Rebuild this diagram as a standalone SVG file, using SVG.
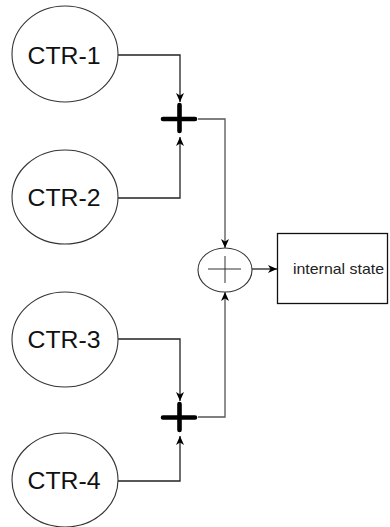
<svg xmlns="http://www.w3.org/2000/svg" width="390" height="527" viewBox="0 0 390 527">
  <style>
    .ctr { fill: #ffffff; stroke: #333333; stroke-width: 1.1; }
    .label { font-family: "Liberation Sans", Arial, sans-serif; font-size: 23px; fill: #111111; text-anchor: middle; }
    .small { font-family: "Liberation Sans", Arial, sans-serif; font-size: 15px; fill: #222222; text-anchor: middle; }
    .sum { stroke: #000000; stroke-width: 4.6; stroke-linecap: round; fill: none; }
    .wire { fill: none; stroke: #222222; stroke-width: 1.3; marker-end: url(#arrow); }
    .wire2 { fill: none; stroke: #555555; stroke-width: 1.3; marker-end: url(#arrow); }
  </style>
  <defs>
    <marker id="arrow" markerUnits="userSpaceOnUse" markerWidth="10" markerHeight="10" viewBox="0 0 10 8" refX="9" refY="4" orient="auto">
      <path d="M0,0 L9,4 L0,8 L2.5,4 Z" fill="#000000"/>
    </marker>
  </defs>
  <rect width="390" height="527" fill="#ffffff"/>

  <!-- connectors -->
  <g id="connectors">
    <path class="wire" d="M118,55 H180 V102"/>
    <path class="wire" d="M118,198 H180 V137"/>
    <path class="wire" d="M118,339 H180 V401"/>
    <path class="wire" d="M118,481 H180 V436"/>
    <path class="wire2" d="M198,119 H225 V248"/>
    <path class="wire2" d="M198,417 H225 V292"/>
    <path class="wire" d="M252,269 H277"/>
  </g>

  <!-- counters -->
  <g id="ctr1">
    <ellipse class="ctr" cx="65" cy="54" rx="53" ry="48"/>
    <text class="label" x="64" y="64" textLength="73" lengthAdjust="spacingAndGlyphs">CTR-1</text>
  </g>
  <g id="ctr2">
    <ellipse class="ctr" cx="65" cy="197" rx="53" ry="47"/>
    <text class="label" x="64" y="206" textLength="73" lengthAdjust="spacingAndGlyphs">CTR-2</text>
  </g>
  <g id="ctr3">
    <ellipse class="ctr" cx="65" cy="339.5" rx="53" ry="47.5"/>
    <text class="label" x="64" y="348" textLength="73" lengthAdjust="spacingAndGlyphs">CTR-3</text>
  </g>
  <g id="ctr4">
    <ellipse class="ctr" cx="65" cy="480" rx="53" ry="47"/>
    <text class="label" x="64" y="489" textLength="73" lengthAdjust="spacingAndGlyphs">CTR-4</text>
  </g>

  <!-- partial sums -->
  <g id="sum-top">
    <path class="sum" d="M163,119 H195 M179.5,105 V131"/>
  </g>
  <g id="sum-bottom">
    <path class="sum" d="M163,417.5 H195 M179.5,404 V430"/>
  </g>

  <!-- final adder -->
  <g id="adder">
    <ellipse cx="225" cy="270" rx="27" ry="22" fill="#ffffff" stroke="#333333" stroke-width="1.1"/>
    <path d="M208,269 H241 M225,256 V283" stroke="#333333" stroke-width="1" fill="none"/>
  </g>

  <!-- internal state -->
  <g id="state">
    <rect x="277.5" y="233.5" width="110" height="70" fill="#ffffff" stroke="#111111" stroke-width="1.3"/>
    <text class="small" x="338.5" y="274" textLength="91" lengthAdjust="spacingAndGlyphs">internal state</text>
  </g>
</svg>
